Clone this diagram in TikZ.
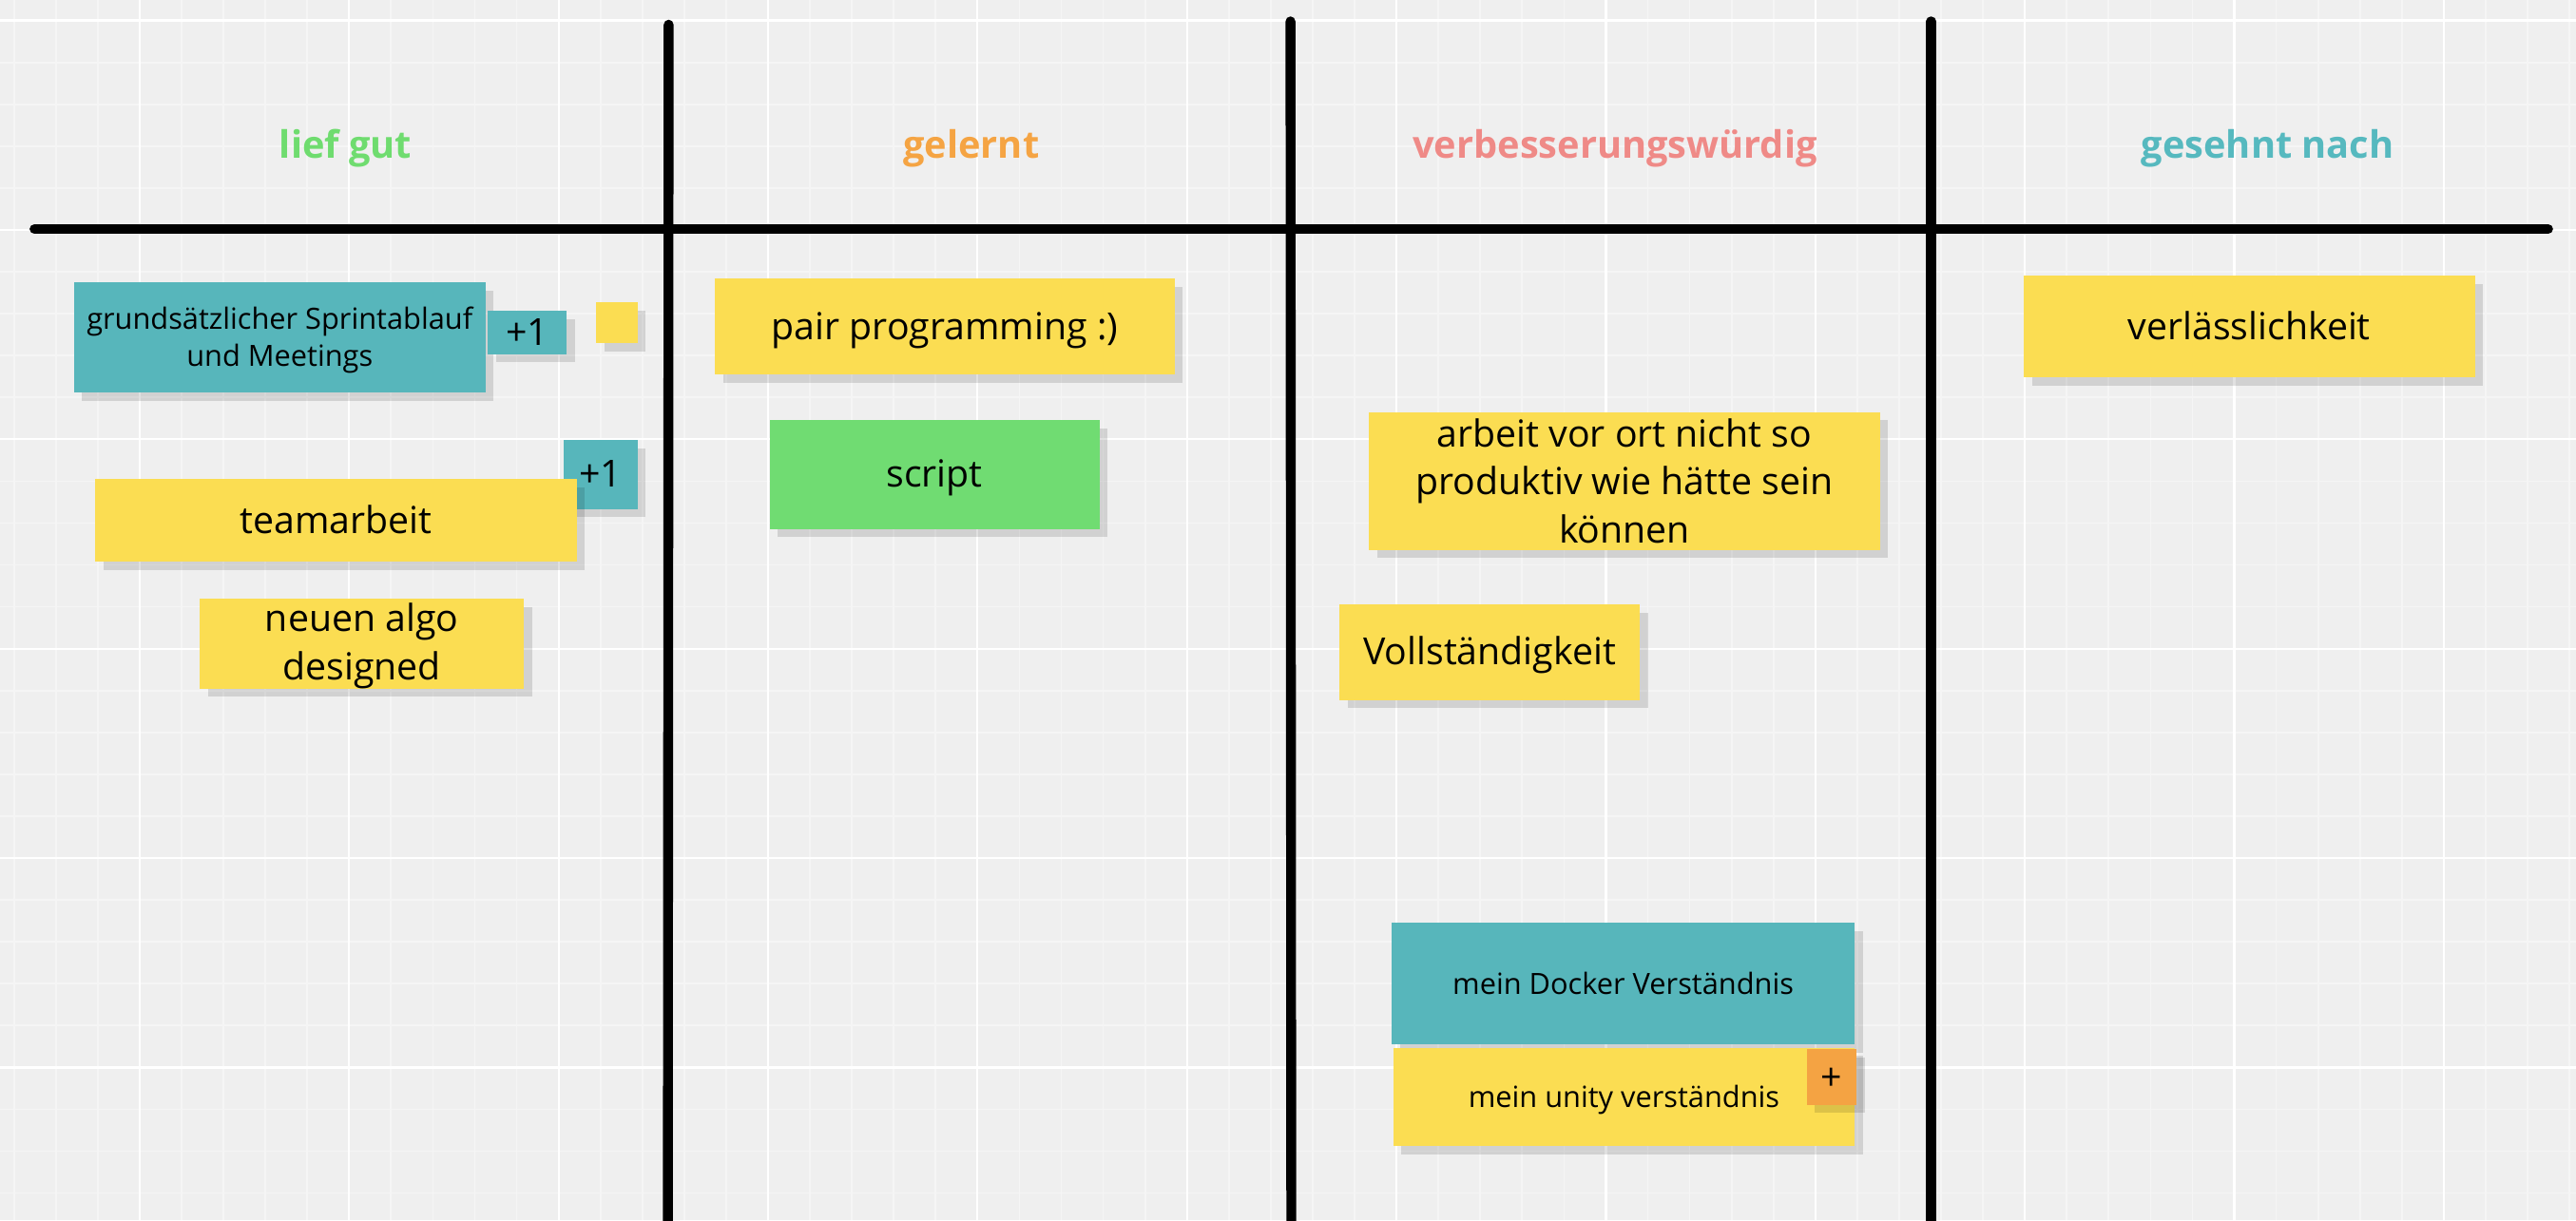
\documentclass[tikz,border=0pt]{standalone}
\usepackage{fontspec}
\setmainfont{Open Sans}
\usetikzlibrary{shadows}
\definecolor{bg}{HTML}{EFEFEF}
\definecolor{gridminor}{HTML}{F5F5F5}
\definecolor{noteyellow}{HTML}{FBDD52}
\definecolor{noteteal}{HTML}{57B6BB}
\definecolor{notegreen}{HTML}{70DC72}
\definecolor{noteorange}{HTML}{F4A343}
\definecolor{headgreen}{HTML}{6FDC6F}
\definecolor{headorange}{HTML}{F5A443}
\definecolor{headred}{HTML}{EF8A87}
\definecolor{headteal}{HTML}{56B9BF}
\tikzset{
  note/.style={inner sep=0pt, align=center, text=black,
    drop shadow={shadow xshift=5pt, shadow yshift=-5pt, fill=black, opacity=0.12}},
  bigtext/.style={font=\fontsize{22.7}{29.3}\selectfont},
  smalltext/.style={font=\fontsize{17.8}{22.2}\selectfont},
  bigone/.style={bigtext, text height=21pt, text depth=5.4pt},
  smallone/.style={smalltext, text height=17pt, text depth=4.4pt},
  yellownote/.style={note, fill=noteyellow},
  tealnote/.style={note, fill=noteteal},
  greennote/.style={note, fill=notegreen},
  orangenote/.style={note, fill=noteorange},
  heading/.style={anchor=base, font=\bfseries\fontsize{23}{28}\selectfont},
  divider/.style={line width=6pt, line cap=round, black},
}
\begin{document}
\begin{tikzpicture}[x=1pt, y=-1pt]
\useasboundingbox (0,0) rectangle (1568,743);
\clip (0,0) rectangle (1568,743);
\fill[bg] (0,0) rectangle (1568,743);
% grid
\foreach \i in {0,...,61} {
  \draw[gridminor, line width=1pt] ({8.5+25.5*\i},0) -- ({8.5+25.5*\i},743);
}
\foreach \j in {0,...,29} {
  \draw[gridminor, line width=1pt] (0,{12.5+25.5*\j}) -- (1568,{12.5+25.5*\j});
}
\foreach \i in {0,...,11} {
  \draw[white, line width=1.3pt] ({85+127.5*\i},0) -- ({85+127.5*\i},743);
}
\foreach \j in {0,...,5} {
  \draw[white, line width=1.3pt] (0,{12.5+127.5*\j}) -- (1568,{12.5+127.5*\j});
}
% dividers
\coordinate (hl) at (21,139.5);
\coordinate (hr) at (1551,139.5);
\coordinate (v1t) at (407,15);
\coordinate (v1b) at (406.5,760);
\coordinate (v2t) at (785.5,13);
\coordinate (v2b) at (786,760);
\coordinate (v3t) at (1175.5,13);
\coordinate (v3b) at (1175.5,760);
\draw[divider] (hl) -- (hr);
\draw[divider] (v1t) -- (v1b);
\draw[divider] (v2t) -- (v2b);
\draw[divider] (v3t) -- (v3b);
% headings
\node[heading, text=headgreen] (h1) at (210.4,96.4) {lief gut};
\node[heading, text=headorange] (h2) at (591.2,96.4) {gelernt};
\node[heading, text=headred] (h3) at (983,96.4) {verbesserungswürdig};
\node[heading, text=headteal] (h4) at (1380.3,96.4) {gesehnt nach};
% column 1
\node[tealnote, smalltext, minimum width=250.5pt, minimum height=67pt] (sprint) at (170.25,205.5) {\rule{0pt}{16.7pt}grundsätzlicher Sprintablauf\\und Meetings};
\node[tealnote, bigone, minimum width=48pt, minimum height=25pt] (plusa) at (321,202.5) {+1};
\node[yellownote, minimum width=25pt, minimum height=25pt] (square) at (375.5,196.5) {};
\node[tealnote, bigone, minimum width=45pt, minimum height=42pt] (plusb) at (365.5,289) {+1};
\node[yellownote, bigone, minimum width=293pt, minimum height=50.4pt] (team) at (204.5,316.8) {teamarbeit};
\node[yellownote, bigtext, minimum width=197.5pt, minimum height=53pt] (algo) at (220.25,392) {\rule{0pt}{19.9pt}neuen algo\\designed};
% column 2
\node[yellownote, bigone, minimum width=279.7pt, minimum height=58.3pt] (pair) at (575.15,198.85) {pair programming :)};
\node[greennote, bigone, minimum width=200.7pt, minimum height=66pt] (script) at (568.85,289) {script};
% column 3
\node[yellownote, bigtext, minimum width=310.9pt, minimum height=83.8pt] (arbeit) at (988.75,292.9) {arbeit vor ort nicht so\\produktiv wie hätte sein\\können};
\node[yellownote, bigone, minimum width=183pt, minimum height=58.3pt] (voll) at (906.7,397.15) {Vollständigkeit};
\node[tealnote, smallone, minimum width=282pt, minimum height=74pt] (docker) at (988,599) {mein Docker Verständnis};
\node[yellownote, smallone, minimum width=281pt, minimum height=60pt] (unity) at (988.5,668) {mein unity verständnis};
\node[orangenote, bigone, minimum width=30.3pt, minimum height=33.7pt] (plusc) at (1114.85,655.85) {+};
% column 4
\node[yellownote, bigone, minimum width=274.6pt, minimum height=62.1pt] (verl) at (1369.1,198.85) {verlässlichkeit};
\end{tikzpicture}
\end{document}
